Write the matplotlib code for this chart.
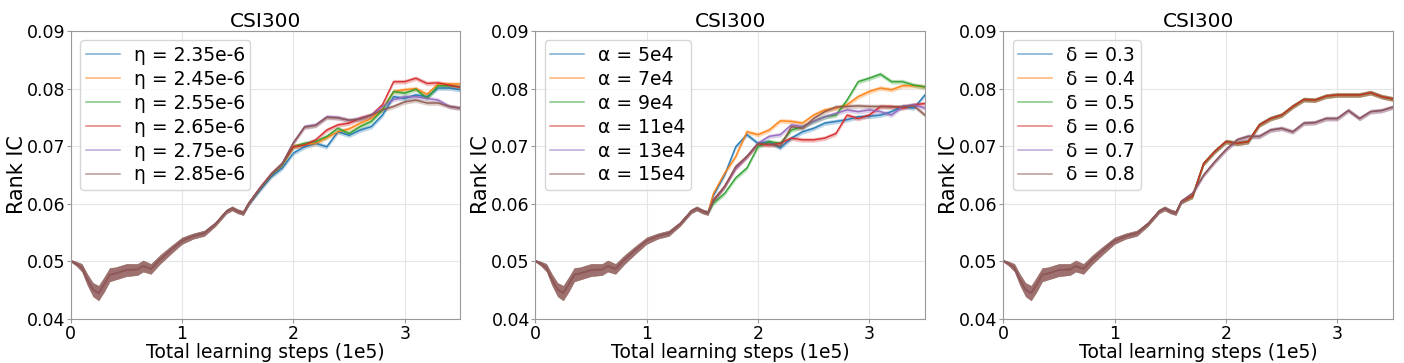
import matplotlib.pyplot as plt

# shared early part of every run (steps in 1e5)
steps_head = [0, 0.05, 0.1, 0.15, 0.2, 0.25, 0.3, 0.35, 0.4, 0.5, 0.6, 0.65, 0.72,
              0.8, 0.9, 1.0, 1.1, 1.2, 1.3, 1.4, 1.45, 1.5, 1.55]
ic_head = [0.0501, 0.0496, 0.0489, 0.0468, 0.0451, 0.0445, 0.0460, 0.0477, 0.0479,
           0.0485, 0.0486, 0.0492, 0.0487, 0.0503, 0.0520, 0.0536, 0.0544, 0.0549,
           0.0565, 0.0587, 0.0592, 0.0587, 0.0584]
band_head = [0.0002, 0.0004, 0.0007, 0.0010, 0.0012, 0.0013, 0.0013, 0.0012, 0.0011,
             0.0011, 0.0010, 0.0010, 0.0009, 0.0008, 0.0007, 0.0006, 0.0005, 0.0005,
             0.0004, 0.0004, 0.0004, 0.0004, 0.0004]

steps_tail = [1.6, 1.7, 1.8, 1.9, 2.0, 2.1, 2.2, 2.3, 2.4, 2.5, 2.6, 2.7, 2.8, 2.9,
              3.0, 3.1, 3.2, 3.3, 3.4, 3.5]

eta_labels = ["η = 2.35e-6", "η = 2.45e-6", "η = 2.55e-6",
              "η = 2.65e-6", "η = 2.75e-6", "η = 2.85e-6"]
eta_tails = [
    [0.0600, 0.0624, 0.0647, 0.0662, 0.0688, 0.0699, 0.0705, 0.0699, 0.0725, 0.0719,
     0.0728, 0.0734, 0.0754, 0.0786, 0.0783, 0.0789, 0.0786, 0.0801, 0.0801, 0.0798],
    [0.0601, 0.0627, 0.0650, 0.0668, 0.0700, 0.0703, 0.0705, 0.0715, 0.0725, 0.0730,
     0.0740, 0.0748, 0.0765, 0.0795, 0.0798, 0.0800, 0.0790, 0.0808, 0.0808, 0.0808],
    [0.0601, 0.0627, 0.0650, 0.0668, 0.0699, 0.0705, 0.0708, 0.0717, 0.0731, 0.0722,
     0.0734, 0.0743, 0.0763, 0.0795, 0.0792, 0.0799, 0.0783, 0.0805, 0.0805, 0.0803],
    [0.0601, 0.0628, 0.0652, 0.0670, 0.0699, 0.0702, 0.0711, 0.0728, 0.0737, 0.0740,
     0.0749, 0.0754, 0.0772, 0.0812, 0.0812, 0.0818, 0.0809, 0.0810, 0.0806, 0.0802],
    [0.0601, 0.0627, 0.0651, 0.0670, 0.0706, 0.0734, 0.0737, 0.0751, 0.0750, 0.0745,
     0.0748, 0.0754, 0.0769, 0.0781, 0.0786, 0.0786, 0.0783, 0.0780, 0.0769, 0.0766],
    [0.0601, 0.0627, 0.0651, 0.0670, 0.0706, 0.0733, 0.0736, 0.0750, 0.0749, 0.0745,
     0.0747, 0.0754, 0.0763, 0.0769, 0.0777, 0.0780, 0.0775, 0.0775, 0.0769, 0.0766],
]

alpha_labels = ["α = 5e4", "α = 7e4", "α = 9e4", "α = 11e4", "α = 13e4", "α = 15e4"]
alpha_tails = [
    [0.0615, 0.0650, 0.0699, 0.0720, 0.0705, 0.0708, 0.0697, 0.0714, 0.0725, 0.0731,
     0.0740, 0.0743, 0.0746, 0.0751, 0.0752, 0.0754, 0.0760, 0.0769, 0.0766, 0.0789],
    [0.0618, 0.0653, 0.0682, 0.0725, 0.0720, 0.0728, 0.0744, 0.0743, 0.0740, 0.0754,
     0.0763, 0.0766, 0.0772, 0.0786, 0.0795, 0.0801, 0.0798, 0.0805, 0.0805, 0.0803],
    [0.0601, 0.0618, 0.0645, 0.0662, 0.0699, 0.0708, 0.0705, 0.0728, 0.0734, 0.0743,
     0.0751, 0.0754, 0.0780, 0.0812, 0.0818, 0.0825, 0.0812, 0.0812, 0.0806, 0.0803],
    [0.0607, 0.0630, 0.0662, 0.0682, 0.0704, 0.0702, 0.0705, 0.0714, 0.0711, 0.0711,
     0.0714, 0.0722, 0.0754, 0.0748, 0.0754, 0.0769, 0.0769, 0.0766, 0.0772, 0.0774],
    [0.0605, 0.0630, 0.0662, 0.0682, 0.0705, 0.0717, 0.0720, 0.0737, 0.0734, 0.0743,
     0.0751, 0.0757, 0.0763, 0.0760, 0.0763, 0.0760, 0.0754, 0.0769, 0.0772, 0.0766],
    [0.0605, 0.0630, 0.0665, 0.0682, 0.0705, 0.0704, 0.0700, 0.0734, 0.0731, 0.0748,
     0.0760, 0.0768, 0.0769, 0.0770, 0.0769, 0.0769, 0.0768, 0.0769, 0.0770, 0.0754],
]

delta_labels = ["δ = 0.3", "δ = 0.4", "δ = 0.5", "δ = 0.6", "δ = 0.7", "δ = 0.8"]
delta_upper = [0.0604, 0.0613, 0.0670, 0.0691, 0.0708, 0.0705, 0.0708, 0.0737, 0.0748,
               0.0754, 0.0769, 0.0781, 0.0780, 0.0787, 0.0789, 0.0789, 0.0789, 0.0793,
               0.0786, 0.0782]
delta_lower = [0.0604, 0.0618, 0.0650, 0.0673, 0.0694, 0.0711, 0.0717, 0.0717, 0.0728,
               0.0731, 0.0725, 0.0740, 0.0741, 0.0748, 0.0748, 0.0762, 0.0748, 0.0760,
               0.0762, 0.0768]
delta_tails = [delta_upper, delta_upper, delta_upper, delta_upper, delta_lower, delta_lower]

band_tail = [0.0004, 0.0004, 0.0004, 0.0004, 0.0004, 0.0004, 0.0004, 0.0004, 0.0004, 0.0004,
             0.0004, 0.0004, 0.0004, 0.0004, 0.0004, 0.0004, 0.0004, 0.0004, 0.0004, 0.0004]

colors = ["tab:blue", "tab:orange", "tab:green", "tab:red", "tab:purple", "tab:brown"]

fig = plt.figure(figsize=(14.04, 3.63), dpi=100)
lefts = [0.0504, 0.3813, 0.7146]
panels = [(eta_labels, eta_tails), (alpha_labels, alpha_tails), (delta_labels, delta_tails)]

for left, (labels, tails) in zip(lefts, panels):
    ax = fig.add_axes([left, 0.1212, 0.2775, 0.7934])
    x = steps_head + steps_tail
    band = band_head + band_tail
    for lab, tail, c in zip(labels, tails, colors):
        y = ic_head + tail
        lo = [v - b for v, b in zip(y, band)]
        hi = [v + b for v, b in zip(y, band)]
        ax.fill_between(x, lo, hi, color=c, alpha=0.3, linewidth=0)
        ax.plot(x, y, color=c, lw=1.1, alpha=0.9, label=lab)
    ax.set_xlim(0, 3.5)
    ax.set_ylim(0.04, 0.09)
    ax.set_xticks([0, 1, 2, 3])
    ax.set_yticks([0.04, 0.05, 0.06, 0.07, 0.08, 0.09])
    ax.set_yticklabels(["0.04", "0.05", "0.06", "0.07", "0.08", "0.09"])
    ax.grid(True, color="#e6e6e6", lw=0.8)
    ax.set_axisbelow(True)
    for s in ax.spines.values():
        s.set_color("#999999")
    ax.tick_params(labelsize=12.5, length=3, color="#999999", pad=1)
    ax.set_title("CSI300", fontsize=14.5, pad=2)
    ax.set_xlabel("Total learning steps (1e5)", fontsize=13.5, labelpad=0)
    ax.set_ylabel("Rank IC", fontsize=15, labelpad=0)
    leg = ax.legend(loc="upper left", fontsize=13.5, handlelength=1.8, handletextpad=0.75,
                    labelspacing=0.26, borderpad=0.3, borderaxespad=0.5, framealpha=0.8)
    for h in leg.get_lines():
        h.set_alpha(0.6)

plt.savefig("out.png", dpi=100)
